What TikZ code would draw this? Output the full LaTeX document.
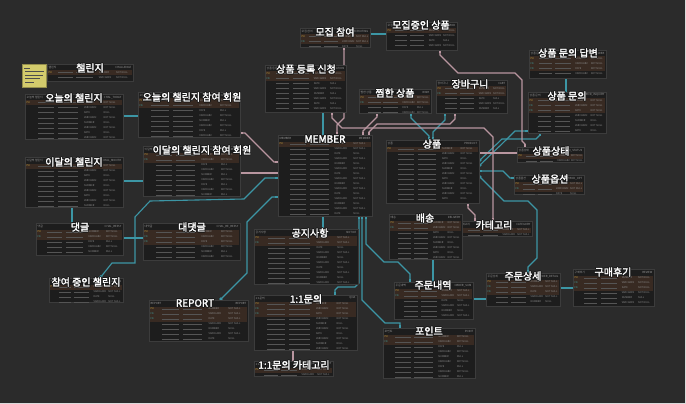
\documentclass[tikz,border=0pt]{standalone}
\usepackage{fontspec}
\setmainfont{Noto Sans CJK KR}[AutoFakeBold=2.2]
\usetikzlibrary{arrows.meta}
\pgfdeclarelayer{back}
\pgfdeclarelayer{lines}
\pgfsetlayers{back,lines,main}
\definecolor{bg}{HTML}{2B2B2B}
\definecolor{tb}{HTML}{1D1D1D}
\definecolor{tbline}{HTML}{3C3C3C}
\definecolor{keyrow}{HTML}{382A22}
\definecolor{tealc}{HTML}{3C96A5}
\definecolor{pinkc}{HTML}{B996A0}
\definecolor{hdtxt}{HTML}{9A9A9A}
\definecolor{rtxt}{HTML}{8A8A8A}
\definecolor{rbar}{HTML}{555555}
\definecolor{keyor}{HTML}{C9A23E}
\definecolor{keyte}{HTML}{3FA3A3}
\definecolor{hc}{HTML}{1A1A1A}
\definecolor{note}{HTML}{D3CB6C}
\definecolor{edgec}{HTML}{DADADA}
\newcommand\halo[1]{\leavevmode\rlap{\textcolor{hc}{\kern-0.8pt#1}}\rlap{\textcolor{hc}{\kern0.8pt#1}}\rlap{\textcolor{hc}{\raisebox{0.8pt}{#1}}}\rlap{\textcolor{hc}{\raisebox{-0.8pt}{#1}}}\rlap{\textcolor{hc}{\kern0.6pt\raisebox{0.6pt}{#1}}}\rlap{\textcolor{hc}{\kern-0.6pt\raisebox{-0.6pt}{#1}}}\rlap{\textcolor{hc}{\kern0.6pt\raisebox{-0.6pt}{#1}}}\rlap{\textcolor{hc}{\kern-0.6pt\raisebox{0.6pt}{#1}}}#1}
\tikzset{
 tbox/.style={draw=tbline,fill=tb,line width=0.4pt,inner sep=0pt,outer sep=0pt,rectangle},
 hsm/.style={font=\fontsize{2.8}{3}\selectfont,text=hdtxt,inner sep=0pt},
 rowtxt/.style={font=\fontsize{2.5}{3}\selectfont,text=rtxt,inner sep=0pt},
 ttl/.style={font=\fontsize{10}{10}\selectfont\bfseries,text=white,inner sep=0pt},
 conn/.style={line width=1.1pt,{Square[length=2.6pt,width=2.6pt]}-{Square[length=2.6pt,width=2.6pt]}},
 tcon/.style={conn,draw=tealc},
 pcon/.style={conn,draw=pinkc},
}
% name, x1, y1, x2, y2, keys, kr, en
\newcommand\erdtbl[8]{%
  \node[tbox,anchor=north west,minimum width={(#4-#2)*1pt},minimum height={(#5-#3)*1pt}] (#1) at (#2,#3) {};
  \node[hsm,anchor=west] (#1-kr) at (#2+1.5,#3+3.2) {#7};
  \node[hsm,anchor=east] (#1-en) at (#4-1.5,#3+3.2) {#8};
  \pgfmathtruncatemacro\nrows{round((#5-#3-6.5)/5)}%
  \pgfmathsetmacro\tw{#4-#2}%
  \foreach \i in {1,...,\nrows}{%
    \pgfmathsetmacro\ry{#3+6.5+(\i-1)*5}%
    \pgfmathtruncatemacro\m{mod(\i,4)}%
    \ifnum\i>#6\relax\else
      \fill[keyrow] (#2+0.6,\ry) rectangle (#4-0.6,\ry+5);
      \node[rowtxt,anchor=west] (#1-k\i) at (#2+1.5,\ry+2.5) {\ifnum\i=1 \textcolor{keyor}{PK}\else\textcolor{keyte}{FK}\fi};
    \fi
    \fill[rbar] (#2+0.13*\tw,\ry+2) rectangle (#2+0.30*\tw,\ry+3);
    \fill[rbar] (#2+0.34*\tw,\ry+2) rectangle (#2+0.54*\tw,\ry+3);
    \node[rowtxt,anchor=west] (#1-t\i) at (#2+0.60*\tw,\ry+2.5) {\ifcase\m VARCHAR2\or NUMBER\or VARCHAR2\or DATE\fi};
    \node[rowtxt,anchor=west] (#1-n\i) at (#2+0.80*\tw,\ry+2.5) {\ifnum\i>#6 \ifodd\i NULL\else NOT NULL\fi\else NOT NULL\fi};
  }%
}
\begin{document}
\begin{tikzpicture}[x=1pt,y=-1pt]
\begin{pgfonlayer}{back}
\fill[bg] (0,0) rectangle (686,404);
\fill[edgec] (0,402.6) rectangle (686,404);
\fill[edgec] (684.6,0) rectangle (686,404);
\end{pgfonlayer}
\useasboundingbox (0,0) rectangle (686,404);

% ---------- tables ----------
\erdtbl{chal}{47}{64}{133}{81}{1}{챌린지}{CHALLENGE}
\erdtbl{today}{25}{94}{123}{139}{1}{오늘의 챌린지}{CHAL\_TODAY}
\erdtbl{todaym}{138}{92}{240}{137}{2}{오늘의 챌린지 참여 회원}{CHAL\_TODAY\_MEMBER}
\erdtbl{month}{25}{157}{123}{207}{1}{이달의 챌린지}{CHAL\_MONTH}
\erdtbl{monthm}{143}{146}{240}{196}{2}{이달의 챌린지 참여 회원}{CHAL\_MONTH\_MEMBER}
\erdtbl{reply}{36}{223}{123}{255}{2}{댓글}{CHAL\_REPLY}
\erdtbl{rreply}{143}{223}{240}{260}{3}{대댓글}{CHAL\_RE\_REPLY}
\erdtbl{join}{49}{278}{123}{302}{1}{참여 중인 챌린지}{CHAL\_JOIN}
\erdtbl{report}{149}{300}{248}{341}{3}{REPORT}{REPORT}
\erdtbl{rec}{300}{28}{370}{47}{2}{모집 참여}{RECRUITING}
\erdtbl{recp}{386}{22}{457}{50}{1}{모집중인 상품}{RECRUIT\_PROD}
\erdtbl{reg}{265}{65}{346}{112}{2}{상품 등록 신청}{PROD\_APPLICATION}
\erdtbl{wish}{359}{89}{431}{113}{2}{찜한 상품}{WISH}
\erdtbl{cart}{436}{80}{507}{113}{2}{장바구니}{CART}
\erdtbl{ans}{529}{50}{606}{78}{3}{상품 문의 답변}{PROD\_ANSWER}
\erdtbl{inq}{528}{92}{606}{133}{3}{상품 문의}{PROD\_INQUIRY}
\erdtbl{mem}{278}{135}{372}{216}{1}{MEMBER}{MEMBER}
\erdtbl{prod}{386}{140}{479}{203}{1}{상품}{PRODUCT}
\erdtbl{stat}{517}{147}{584}{162}{1}{상품상태}{PROD\_STATUS}
\erdtbl{opt}{514}{175}{584}{194}{2}{상품옵션}{PROD\_OPT}
\erdtbl{cat}{458}{221}{532}{236}{1}{카테고리}{CATEGORY}
\erdtbl{del}{389}{214}{462}{259}{2}{배송}{DELIVERY}
\erdtbl{notice}{254}{229}{358}{284}{2}{공지사항}{NOTICE}
\erdtbl{qna}{254}{295}{357}{350}{3}{1:1문의}{QNA}
\erdtbl{qcat}{254}{361}{333}{376}{1}{1:1문의 카테고리}{QNA\_CATEGORY}
\erdtbl{ord}{394}{282}{473}{319}{2}{주문내역}{ORDER\_SUM}
\erdtbl{point}{383}{328}{475}{378}{2}{포인트}{POINT}
\erdtbl{odet}{486}{273}{560}{306}{3}{주문상세}{ORDER\_DETAIL}
\erdtbl{rev}{573}{269}{654}{306}{3}{구매후기}{REVIEW}

% sticky note
\node[fill=note,draw=note!70!black,line width=0.3pt,inner sep=0pt,outer sep=0pt,minimum width=24pt,minimum height=23pt,anchor=north west] (note) at (22,64) {};
\foreach \k/\a/\b in {1/24/30,2/25/44,3/25/43,4/25/40,5/25/34}{
  \fill[black!70] (\a,64+\k*3.6) rectangle (\b,64+\k*3.6+1.1);
}

% ---------- connectors ----------
\begin{pgfonlayer}{lines}
% teal
\draw[tcon] (today.east |- 0,116) -- (todaym.west |- 0,116);
\draw[tcon] (month.east |- 0,181) -- (monthm.west |- 0,181);
\draw[tcon] (month.south -| 72,0) -- (reply.north -| 72,0);
\draw[tcon] (reply.east |- 0,238) -- (rreply.west |- 0,238);
\draw[tcon] (join.north -| 100,0) -- (112,263) -- (135,263) -- (135,217) -- (150,201) -- (244,199) -- (265,178) -- (mem.west |- 0,178);
\draw[tcon] (report.north -| 220,0) -- (247,273) -- (247,222) -- (272,197) -- (mem.west |- 0,197);
\draw[tcon] (reg.south -| 323,0) -- (mem.north -| 323,0);
\draw[tcon] (rec.east |- 0,34) -- (recp.west |- 0,34);
\draw[tcon] (ans.south -| 566,0) -- (inq.north -| 566,0);
\draw[tcon] (wish.south -| 411,0) -- (411,118) -- (429,136) -- (prod.north -| 429,0);
\draw[tcon] (cart.south -| 445,0) -- (445,120) -- (433,132) -- (prod.north -| 433,0);
\draw[tcon] (prod.east |- 0,166) -- (506,140) -- (515,131) -- (inq.west |- 0,131);
\draw[tcon] (prod.east |- 0,161) -- (502,139) -- (536,139) -- (540,135) -- (inq.south -| 540,0);
\draw[tcon] (prod.east |- 0,171) -- (503,171) -- (510,178) -- (opt.west |- 0,178);
\draw[tcon] (prod.east |- 0,176) -- (504,201) -- (528,201) -- (537,210) -- (537,258) -- (528,267) -- (odet.north -| 528,0);
\draw[tcon] (mem.south -| 323,0) -- (notice.north -| 323,0);
\draw[tcon] (mem.south -| 366,0) -- (366,244) -- (384,262) -- (398,262) -- (410,274) -- (ord.north -| 410,0);
\draw[tcon] (mem.south -| 362,0) -- (362,300) -- (385,323) -- (400,323) -- (point.north -| 400,0);
\draw[tcon] (qna.north -| 335,0) -- (335,290) -- (338,287) -- (355,287) -- (359,283) -- (mem.south -| 359,0);
\draw[tcon] (del.south -| 433,0) -- (ord.north -| 433,0);
\draw[tcon] (ord.east |- 0,299) -- (odet.west |- 0,299);
\draw[tcon] (odet.east |- 0,288) -- (rev.west |- 0,288);
% pink
\draw[pcon] (todaym.east |- 0,133) -- (245,133) -- (274,162) -- (mem.west |- 0,162);
\draw[pcon] (monthm.east |- 0,173) -- (mem.west |- 0,173);
\draw[pcon] (rec.south -| 344,0) -- (344,118) -- (337,125) -- (mem.north -| 337,0);
\draw[pcon] (reg.south -| 332,0) -- (332,118) -- (342,128) -- (484,128) -- (493,137) -- (cat.north -| 493,0);
\draw[pcon] (wish.south -| 377,0) -- (377,117) -- (363,131) -- (mem.north -| 363,0);
\draw[pcon] (cart.south -| 455,0) -- (455,119) -- (450,124) -- (377,124) -- (369,132) -- (mem.north -| 369,0);
\draw[pcon] (recp.south -| 440,0) -- (440,55) -- (458,73) -- (515,73) -- (522,80) -- (522,141) -- (525,144) -- (stat.north -| 525,0);
\draw[pcon] (prod.east |- 0,153) -- (stat.west |- 0,153);
\draw[pcon] (prod.south -| 468,0) -- (468,208) -- (475,215) -- (cat.north -| 475,0);
\draw[pcon] (qna.south -| 293,0) -- (qcat.north -| 293,0);
\end{pgfonlayer}

% ---------- titles ----------
\node[ttl] (t-chal) at (90,68) {\halo{챌린지}};
\node[ttl] (t-today) at (74,98) {\halo{오늘의 챌린지}};
\node[ttl] (t-todaym) at (192,97) {\halo{오늘의 챌린지 참여 회원}};
\node[ttl] (t-month) at (74,162) {\halo{이달의 챌린지}};
\node[ttl] (t-monthm) at (202,150) {\halo{이달의 챌린지 참여 회원}};
\node[ttl] (t-reply) at (80,227) {\halo{댓글}};
\node[ttl] (t-rreply) at (192,227) {\halo{대댓글}};
\node[ttl] (t-join) at (86,282) {\halo{참여 중인 챌린지}};
\node[ttl] (t-report) at (195,303) {\halo{REPORT}};
\node[ttl] (t-rec) at (335,32) {\halo{모집 참여}};
\node[ttl] (t-recp) at (421,25) {\halo{모집중인 상품}};
\node[ttl] (t-reg) at (306,69) {\halo{상품 등록 신청}};
\node[ttl] (t-wish) at (395,93) {\halo{찜한 상품}};
\node[ttl] (t-cart) at (470,84) {\halo{장바구니}};
\node[ttl] (t-ans) at (568,53) {\halo{상품 문의 답변}};
\node[ttl] (t-inq) at (567,96) {\halo{상품 문의}};
\node[ttl] (t-mem) at (325,139) {\halo{MEMBER}};
\node[ttl] (t-prod) at (432,144) {\halo{상품}};
\node[ttl] (t-stat) at (551,151) {\halo{상품상태}};
\node[ttl] (t-opt) at (550,179) {\halo{상품옵션}};
\node[ttl] (t-cat) at (494,225) {\halo{카테고리}};
\node[ttl] (t-del) at (425,218) {\halo{배송}};
\node[ttl] (t-notice) at (310,233) {\halo{공지사항}};
\node[ttl] (t-qna) at (306,299) {\halo{1:1문의}};
\node[ttl] (t-qcat) at (294,365) {\halo{1:1문의 카테고리}};
\node[ttl] (t-ord) at (433,285) {\halo{주문내역}};
\node[ttl] (t-point) at (429,331) {\halo{포인트}};
\node[ttl] (t-odet) at (523,276) {\halo{주문상세}};
\node[ttl] (t-rev) at (613,272) {\halo{구매후기}};
\end{tikzpicture}
\end{document}
